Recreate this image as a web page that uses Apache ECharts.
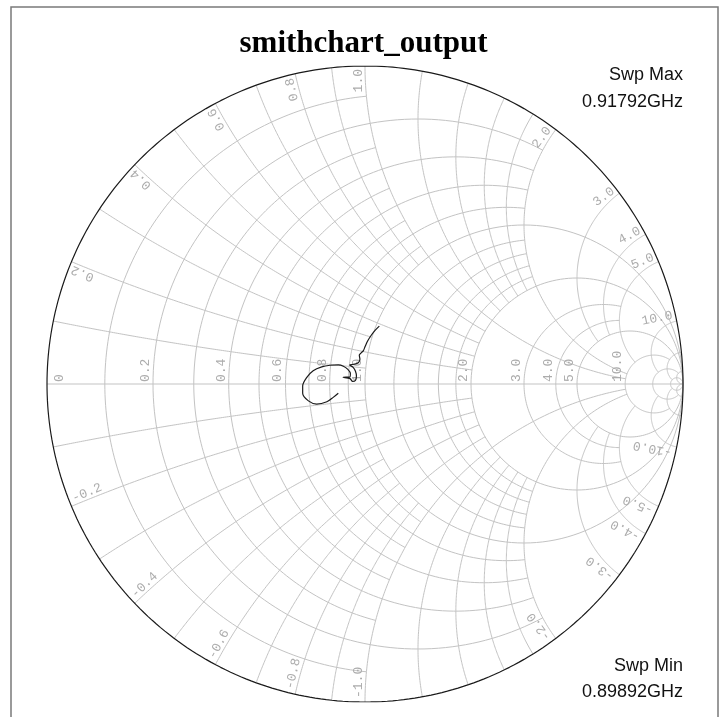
<!DOCTYPE html>
<html>
<head>
<meta charset="utf-8">
<title>smithchart_output</title>
<script src="https://cdn.jsdelivr.net/npm/echarts@6/dist/echarts.min.js"></script>
<style>
    html, body { margin: 0; padding: 0; background: #ffffff; }
    #chart { width: 727px; height: 717px; }
</style>
</head>
<body>
<div id="chart"></div>
<script>
    // resistance circles and the |reactance| where each one stops (Infinity = full circle)
    var rValues = [0.1, 0.2, 0.3, 0.4, 0.5, 0.6, 0.7, 0.8, 0.9, 1.0, 1.2, 1.4, 1.6, 1.8, 2.0, 3.0, 4.0, 5.0, 10, 20, 50];
    var rStops  = [1, 2, 1, 2, 1, 2, 1, 2, 1, Infinity, 2, 2, 2, 2, Infinity, 5, 5, Infinity, 20, 50, Infinity];
    // reactance arcs (drawn for +x and -x) and the resistance where each one stops
    var xValues = [0.1, 0.2, 0.3, 0.4, 0.5, 0.6, 0.7, 0.8, 0.9, 1.0, 1.2, 1.4, 1.6, 1.8, 2.0, 3.0, 4.0, 5.0, 10, 20, 50];
    var xStops  = [1, 2, 1, 2, 1, 2, 1, 2, 1, 10, 2, 2, 2, 2, 10, 5, 5, 10, 20, 50, Infinity];

    // tick labels
    var rLabelValues = [0, 0.2, 0.4, 0.6, 0.8, 1.0, 2.0, 3.0, 4.0, 5.0, 10.0];
    var xLabelValues = [0.2, 0.4, 0.6, 0.8, 1.0, 2.0, 3.0, 4.0, 5.0, 10.0, -0.2, -0.4, -0.6, -0.8, -1.0, -2.0, -3.0, -4.0, -5.0, -10.0];

    // measured trace, reflection coefficient (real / imaginary)
    var gammaRe = [0.045, 0.031, 0.018, 0.007, 0.000, -0.005, -0.012, -0.018, -0.016, -0.021, -0.035, -0.048,
        -0.038, -0.030, -0.027, -0.030, -0.039, -0.047, -0.069, -0.047, -0.046, -0.054, -0.068,
        -0.084, -0.110, -0.136, -0.163, -0.183, -0.196, -0.196, -0.178, -0.152, -0.120, -0.100, -0.084];
    var gammaIm = [0.182, 0.168, 0.151, 0.133, 0.117, 0.105, 0.098, 0.091, 0.078, 0.067, 0.062, 0.060,
        0.053, 0.040, 0.025, 0.011, 0.008, 0.017, 0.021, 0.022, 0.033, 0.046, 0.056,
        0.060, 0.059, 0.054, 0.042, 0.021, -0.006, -0.029, -0.053, -0.063, -0.056, -0.042, -0.029];

    var sweepMax = '0.91792GHz';
    var sweepMin = '0.89892GHz';

    function gamma(r, x) {
        var den = (r + 1) * (r + 1) + x * x;
        return [(r * r + x * x - 1) / den, 2 * x / den];
    }

    // build the grid arcs in reflection-coefficient space
    var gridArcs = [];
    var N = 160;
    rValues.forEach(function (r, i) {
        var c = r / (1 + r), a = 1 / (1 + r);
        var p0 = 0;
        if (isFinite(rStops[i])) {
            var g = gamma(r, rStops[i]);
            p0 = Math.atan2(g[1], g[0] - c);
        }
        var pts = [];
        for (var k = 0; k <= N; k++) {
            var t = p0 + (2 * Math.PI - 2 * p0) * k / N;
            pts.push([c + a * Math.cos(t), a * Math.sin(t)]);
        }
        gridArcs.push(pts);
    });
    xValues.forEach(function (xv, i) {
        [xv, -xv].forEach(function (x) {
            var cy = 1 / x, a = Math.abs(1 / x);
            var g0 = gamma(0, x);
            var g1 = isFinite(xStops[i]) ? gamma(xStops[i], x) : [1, 0];
            var f0 = Math.atan2(g0[1] - cy, g0[0] - 1);
            var f1 = Math.atan2(g1[1] - cy, g1[0] - 1);
            var d = f1 - f0;
            while (d > Math.PI) d -= 2 * Math.PI;
            while (d <= -Math.PI) d += 2 * Math.PI;
            var pts = [];
            for (var k = 0; k <= N; k++) {
                var t = f0 + d * k / N;
                pts.push([1 + a * Math.cos(t), cy + a * Math.sin(t)]);
            }
            gridArcs.push(pts);
        });
    });
    gridArcs.push([[-1, 0], [1, 0]]);

    var outerCircle = [];
    for (var k = 0; k <= 360; k++) {
        outerCircle.push([Math.cos(k * Math.PI / 180), Math.sin(k * Math.PI / 180)]);
    }

    var trace = gammaRe.map(function (v, i) { return [v, gammaIm[i]]; });

    var labelFont = '13px "Liberation Mono", "DejaVu Sans Mono", monospace';
    var labelColor = '#acacac';

    var chart = echarts.init(document.getElementById('chart'));
    var options = {
        backgroundColor: '#ffffff',
        animation: false,
        title: {
            text: 'smithchart_output',
            left: 'center',
            top: 23,
            textStyle: {
                fontFamily: '"Liberation Serif", "DejaVu Serif", serif',
                fontWeight: 'bold',
                fontSize: 31,
                color: '#000000'
            }
        },
        grid: {
            left: 47,
            top: 66,
            width: 636,
            height: 636
        },
        xAxis: { type: 'value', min: -1, max: 1, show: false },
        yAxis: { type: 'value', min: -1, max: 1, show: false },
        graphic: [
            {
                type: 'rect',
                silent: true,
                shape: { x: 11, y: 7, width: 707, height: 740 },
                style: { fill: null, stroke: '#7a7a7a', lineWidth: 1.5 }
            },
            {
                type: 'text', right: 44, top: 66,
                style: { text: 'Swp Max', fill: '#111', font: '18px "Liberation Sans", Arial, sans-serif', textAlign: 'right' }
            },
            {
                type: 'text', right: 44, top: 93,
                style: { text: sweepMax, fill: '#111', font: '18px "Liberation Sans", Arial, sans-serif', textAlign: 'right' }
            },
            {
                type: 'text', right: 44, top: 657,
                style: { text: 'Swp Min', fill: '#111', font: '18px "Liberation Sans", Arial, sans-serif', textAlign: 'right' }
            },
            {
                type: 'text', right: 44, top: 683,
                style: { text: sweepMin, fill: '#111', font: '18px "Liberation Sans", Arial, sans-serif', textAlign: 'right' }
            }
        ],
        series: [
            {
                type: 'custom',
                name: 'grid',
                silent: true,
                data: gridArcs.map(function (a, i) { return [i]; }),
                renderItem: function (params, api) {
                    var pts = gridArcs[api.value(0)].map(function (p) { return api.coord(p); });
                    return {
                        type: 'polyline',
                        shape: { points: pts },
                        style: { fill: null, stroke: '#c3c3c3', lineWidth: 1 }
                    };
                }
            },
            {
                type: 'custom',
                name: 'rLabels',
                silent: true,
                data: rLabelValues.map(function (v) { return [v]; }),
                renderItem: function (params, api) {
                    var r = api.value(0);
                    var p = api.coord([(r - 1) / (r + 1), 0]);
                    var px = r === 0 ? p[0] + 19 : p[0] - 1;
                    return {
                        type: 'text',
                        x: px,
                        y: p[1] - 2,
                        rotation: Math.PI / 2,
                        style: {
                            text: r === 0 ? '0' : r.toFixed(1),
                            font: labelFont,
                            fill: labelColor,
                            align: 'left',
                            verticalAlign: 'bottom'
                        }
                    };
                }
            },
            {
                type: 'custom',
                name: 'xLabels',
                silent: true,
                data: xLabelValues.map(function (v) { return [v]; }),
                renderItem: function (params, api) {
                    var x = api.value(0);
                    var g = gamma(0, x);
                    var th = Math.atan2(g[1], g[0]);
                    var p = api.coord(g);
                    var ux = Math.cos(th), uy = -Math.sin(th);
                    var inset = x > 0 ? 3 : 4;
                    return {
                        type: 'text',
                        x: p[0] - ux * inset,
                        y: p[1] - uy * inset,
                        rotation: x > 0 ? th : th + Math.PI,
                        style: {
                            text: x.toFixed(1),
                            font: labelFont,
                            fill: labelColor,
                            align: x > 0 ? 'right' : 'left',
                            verticalAlign: 'bottom'
                        }
                    };
                }
            },
            {
                type: 'line',
                name: 'outer',
                silent: true,
                data: outerCircle,
                showSymbol: false,
                lineStyle: { color: '#1a1a1a', width: 1.2 }
            },
            {
                type: 'line',
                name: 'smithchart_output',
                data: trace,
                showSymbol: false,
                smooth: 0.3,
                lineStyle: { color: '#1a1a1a', width: 1.2 }
            }
        ]
    };
    chart.setOption(options);
</script>
</body>
</html>
